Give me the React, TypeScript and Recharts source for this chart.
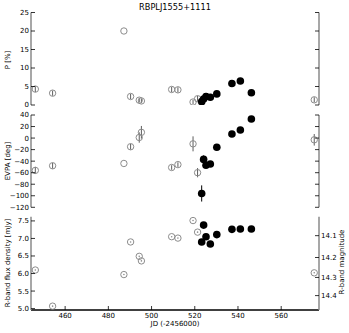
import React from 'react';
import { ScatterChart, Scatter, XAxis, YAxis, ErrorBar } from 'recharts';

// open markers (earlier epochs)
const openJd = [446.2, 454.2, 487.2, 490.3, 494.3, 495.3, 509.3, 512.2, 519.2, 521.3, 575.3];
const openP = [4.3, 3.2, 20.0, 2.3, 1.3, 1.1, 4.2, 4.1, 0.8, 1.7, 1.4];
const openPErr = [0.8, 0.7, 0, 0.7, 0.6, 0.6, 0.7, 0.7, 0.6, 0.8, 0.7];
const openEvpa = [-56, -48, -44, -15, 1, 10, -51, -46, -10, -60, -3];
const openEvpaErr = [6, 5, 0, 5, 9, 11, 4, 4, 13, 8, 10];
const openFlux = [6.1, 5.07, 5.97, 6.9, 6.49, 6.36, 7.05, 7.01, 7.51, 7.18, 6.02];

// filled markers
const filledJd = [523.2, 524.1, 525.2, 527.2, 530.2, 537.2, 541.1, 546.2];
const filledP = [0.9, 1.6, 2.3, 2.1, 3.0, 5.8, 6.5, 3.3];
const filledEvpa = [-96, -37, -47, -45, -16, 7, 14, 33];
const filledEvpaErr = [14, 7, 4, 4, 3, 2, 2, 2];
const filledFlux = [6.9, 7.38, 7.05, 6.84, 7.11, 7.26, 7.27, 7.27];

const xTicks = [460, 480, 500, 520, 540, 560];
const pTicks = [0, 5, 10, 15, 20, 25];
const evpaTicks = [-120, -100, -80, -60, -40, -20, 0, 20, 40];
const fluxTicks = [5.0, 5.5, 6.0, 6.5, 7.0, 7.5];
const magTicks = [14.1, 14.2, 14.3, 14.4];
const MAG_ZERO = 16.225;

const openRows = openJd.map((jd, i) => ({
  jd,
  p: openP[i],
  pErr: openPErr[i],
  evpa: openEvpa[i],
  evpaErr: openEvpaErr[i],
  flux: openFlux[i],
}));
const filledRows = filledJd.map((jd, i) => ({
  jd,
  p: filledP[i],
  evpa: filledEvpa[i],
  evpaErr: filledEvpaErr[i],
  flux: filledFlux[i],
}));

const magToFlux = (m: number) => Math.pow(10, (MAG_ZERO - m) / 2.5);
const fluxToMag = (f: number) => MAG_ZERO - 2.5 * Math.log10(f);
const magFluxTicks = magTicks.map(magToFlux);

const FONT = '"DejaVu Sans", sans-serif';
const FRAME = '#8a8a8a';
const X_DOMAIN: [number, number] = [444.2, 577.5];
const TL = 4;
const fmtNum = (v: number) => String(v).replace('-', '\u2212');

const txt = { fontSize: 7, fontFamily: FONT, fill: '#000' };

const bottomTick = (show: boolean) => (props: any) => {
  const { x, y, payload } = props;
  const y0 = y - 2;
  return (
    <g>
      <line x1={x} x2={x} y1={y0} y2={y0 - TL} stroke="#000" strokeWidth={0.8} />
      {show && (
        <text x={x} y={y} dy="0.8em" textAnchor="middle" {...txt}>
          {payload.value}
        </text>
      )}
    </g>
  );
};

const topTick = (props: any) => {
  const { x, y } = props;
  return <line x1={x} x2={x} y1={y} y2={y + TL} stroke="#000" strokeWidth={0.8} />;
};

const leftTick = (fmt: (v: number) => string) => (props: any) => {
  const { x, y, payload } = props;
  const x0 = x + 2;
  return (
    <g>
      <line x1={x0} x2={x0 + TL} y1={y} y2={y} stroke="#000" strokeWidth={0.8} />
      <text x={x} y={y} dy="0.35em" textAnchor="end" {...txt}>
        {fmt(payload.value)}
      </text>
    </g>
  );
};

const rightTick = (show: boolean) => (props: any) => {
  const { x, y, payload } = props;
  const x0 = x - 2;
  return (
    <g>
      <line x1={x0} x2={x0 - TL} y1={y} y2={y} stroke="#000" strokeWidth={0.8} />
      {show && (
        <text x={x} y={y} dy="0.35em" textAnchor="start" {...txt}>
          {fluxToMag(payload.value).toFixed(1)}
        </text>
      )}
    </g>
  );
};

const OpenDot = (props: any) => (
  <circle cx={props.cx} cy={props.cy} r={3.2} fill="none" stroke="#8c8c8c" strokeWidth={1} />
);
const OpenDotted = (props: any) => (
  <g>
    <circle cx={props.cx} cy={props.cy} r={3.2} fill="none" stroke="#8c8c8c" strokeWidth={1} />
    <circle cx={props.cx} cy={props.cy} r={0.8} fill="#8c8c8c" />
  </g>
);
const FilledDot = (props: any) => <circle cx={props.cx} cy={props.cy} r={3.8} fill="#000" />;

function renderAxes(
  yKey: string,
  domain: [number, number],
  ticks: number[],
  rTicks: number[],
  showX: boolean,
  showMag: boolean,
  bottomHeight: number,
  bottomStroke: string,
  fmt: (v: number) => string
) {
  return [
    <XAxis
      key="xb"
      xAxisId="b"
      dataKey="jd"
      type="number"
      domain={X_DOMAIN}
      allowDataOverflow
      ticks={xTicks}
      interval={0}
      height={bottomHeight}
      tickSize={0}
      tickMargin={2}
      tickLine={false}
      axisLine={{ stroke: bottomStroke, strokeWidth: 1.5 }}
      tick={bottomTick(showX)}
    />,
    <XAxis
      key="xt"
      xAxisId="t"
      orientation="top"
      dataKey="jd"
      type="number"
      domain={X_DOMAIN}
      allowDataOverflow
      ticks={xTicks}
      interval={0}
      height={0}
      tickSize={0}
      tickMargin={0}
      tickLine={false}
      axisLine={{ stroke: FRAME, strokeWidth: 1.5 }}
      tick={topTick}
    />,
    <YAxis
      key="yl"
      yAxisId="l"
      dataKey={yKey}
      type="number"
      domain={domain}
      allowDataOverflow
      ticks={ticks}
      interval={0}
      width={31}
      tickSize={0}
      tickMargin={2}
      tickLine={false}
      axisLine={{ stroke: FRAME, strokeWidth: 1.5 }}
      tick={leftTick(fmt)}
    />,
    <YAxis
      key="yr"
      yAxisId="r"
      orientation="right"
      dataKey={yKey}
      type="number"
      domain={domain}
      allowDataOverflow
      ticks={rTicks}
      interval={0}
      width={30}
      tickSize={0}
      tickMargin={2}
      tickLine={false}
      axisLine={{ stroke: FRAME, strokeWidth: 1.5 }}
      tick={rightTick(showMag)}
    />,
  ];
}

export default function App() {
  return (
    <div
      style={{
        position: 'absolute',
        left: 0,
        top: 0,
        width: 349,
        height: 333,
        background: '#fff',
        fontFamily: FONT,
      }}
    >
      <div style={{ position: 'absolute', left: 0, top: 0 }}>
        <ScatterChart width={349} height={110} margin={{ top: 12.5, right: 0, bottom: 5, left: 0 }}>
          {renderAxes('p', [0, 25], pTicks, pTicks, false, false, 0, FRAME, fmtNum)}
          <Scatter data={openRows} xAxisId="b" yAxisId="l" shape={OpenDot} isAnimationActive={false}>
            <ErrorBar dataKey="pErr" direction="y" width={0} stroke="#333" strokeWidth={0.8} />
          </Scatter>
          <Scatter data={filledRows} xAxisId="b" yAxisId="l" shape={FilledDot} isAnimationActive={false} />
        </ScatterChart>
      </div>
      <div style={{ position: 'absolute', left: 0, top: 110 }}>
        <ScatterChart width={349} height={106} margin={{ top: 5, right: 0, bottom: 8.7, left: 0 }}>
          {renderAxes('evpa', [-120, 40], evpaTicks, evpaTicks, false, false, 0, FRAME, fmtNum)}
          <Scatter data={openRows} xAxisId="b" yAxisId="l" shape={OpenDot} isAnimationActive={false}>
            <ErrorBar dataKey="evpaErr" direction="y" width={0} stroke="#333" strokeWidth={0.8} />
          </Scatter>
          <Scatter data={filledRows} xAxisId="b" yAxisId="l" shape={FilledDot} isAnimationActive={false}>
            <ErrorBar dataKey="evpaErr" direction="y" width={0} stroke="#000" strokeWidth={1} />
          </Scatter>
        </ScatterChart>
      </div>
      <div style={{ position: 'absolute', left: 0, top: 210 }}>
        <ScatterChart width={349} height={123} margin={{ top: 6.7, right: 0, bottom: 9.7, left: 0 }}>
          {renderAxes(
            'flux',
            [4.96, 7.62],
            fluxTicks,
            magFluxTicks,
            true,
            true,
            13.3,
            '#000',
            (v) => v.toFixed(1)
          )}
          <Scatter data={openRows} xAxisId="b" yAxisId="l" shape={OpenDotted} isAnimationActive={false} />
          <Scatter data={filledRows} xAxisId="b" yAxisId="l" shape={FilledDot} isAnimationActive={false} />
        </ScatterChart>
      </div>
      <svg
        width={349}
        height={333}
        style={{ position: 'absolute', left: 0, top: 0, pointerEvents: 'none' }}
      >
        <text x={175} y={10} textAnchor="middle" fontSize={8.2} fontFamily={FONT}>
          RBPLJ1555+1111
        </text>
        <text x={9.5} y={60} textAnchor="middle" fontSize={7} fontFamily={FONT} transform="rotate(-90 9.5 60)">
          P [%]
        </text>
        <text x={9.5} y={161} textAnchor="middle" fontSize={7} fontFamily={FONT} transform="rotate(-90 9.5 161)">
          EVPA [deg]
        </text>
        <text x={9.5} y={263} textAnchor="middle" fontSize={7} fontFamily={FONT} transform="rotate(-90 9.5 263)">
          R-band flux density [mJy]
        </text>
        <text x={344} y={262} textAnchor="middle" fontSize={7} fontFamily={FONT} transform="rotate(-90 344 262)">
          R-band magnitude
        </text>
        <text x={175} y={326} textAnchor="middle" fontSize={7} fontFamily={FONT}>
          JD (-2456000)
        </text>
      </svg>
    </div>
  );
}
